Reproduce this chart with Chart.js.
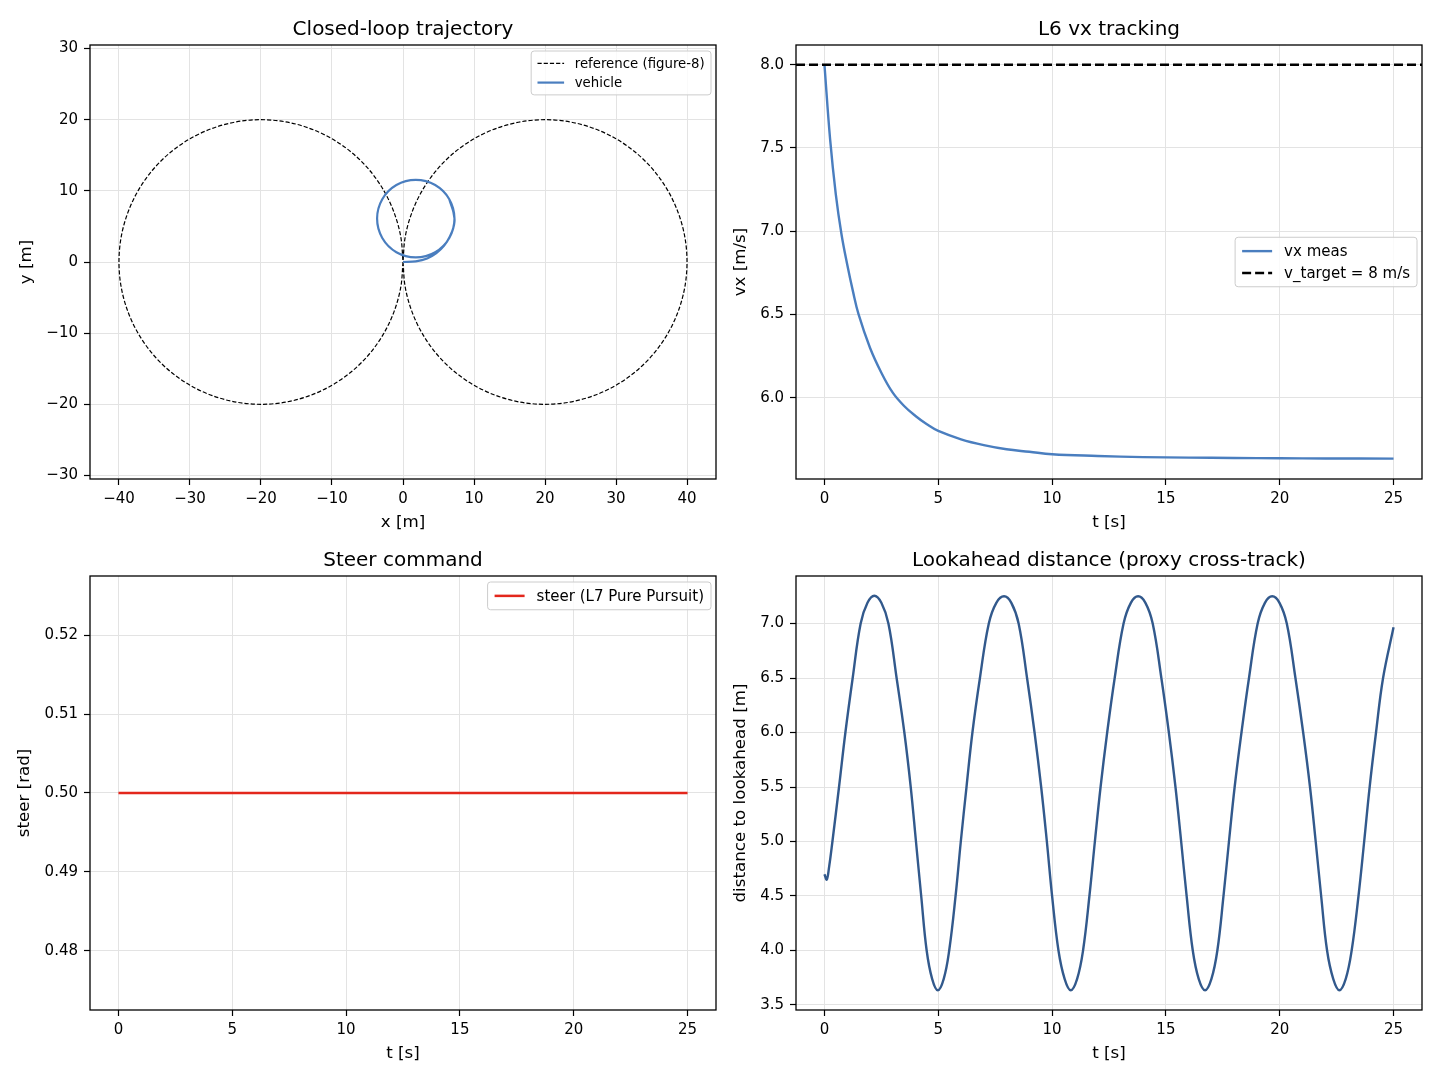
<!DOCTYPE html>
<html>
<head>
<meta charset="utf-8">
<script src="https://cdn.jsdelivr.net/npm/chart.js@4.4.1/dist/chart.umd.min.js"></script>
<style>
  html, body { margin: 0; padding: 0; background: #fff; }
  #wrap { position: relative; width: 1440px; height: 1080px; }
  canvas { position: absolute; }
</style>
</head>
<body>
<div id="wrap">
  <canvas id="traj" width="720" height="540" style="left:0;top:0"></canvas>
  <canvas id="vx" width="720" height="540" style="left:720px;top:0"></canvas>
  <canvas id="steer" width="720" height="540" style="left:0;top:540px"></canvas>
  <canvas id="look" width="720" height="540" style="left:720px;top:540px"></canvas>
</div>
<script>
// ---- data ----

// figure-8 reference path: right loop from the origin, then left loop back to the origin
const refX = [0, 0.30, 1.21, 2.68, 4.68, 7.14, 10, 13.16, 16.53, 20, 23.47, 26.84, 30, 32.86, 35.32, 37.32, 38.79, 39.70,
  40, 39.70, 38.79, 37.32, 35.32, 32.86, 30, 26.84, 23.47, 20, 16.53, 13.16, 10, 7.14, 4.68, 2.68, 1.21, 0.30,
  0, -0.30, -1.21, -2.68, -4.68, -7.14, -10, -13.16, -16.53, -20, -23.47, -26.84, -30, -32.86, -35.32, -37.32, -38.79, -39.70,
  -40, -39.70, -38.79, -37.32, -35.32, -32.86, -30, -26.84, -23.47, -20, -16.53, -13.16, -10, -7.14, -4.68, -2.68, -1.21, -0.30, 0];
const refY = [0, -3.47, -6.84, -10, -12.86, -15.32, -17.32, -18.79, -19.70, -20, -19.70, -18.79, -17.32, -15.32, -12.86, -10, -6.84, -3.47,
  0, 3.47, 6.84, 10, 12.86, 15.32, 17.32, 18.79, 19.70, 20, 19.70, 18.79, 17.32, 15.32, 12.86, 10, 6.84, 3.47,
  0, -3.47, -6.84, -10, -12.86, -15.32, -17.32, -18.79, -19.70, -20, -19.70, -18.79, -17.32, -15.32, -12.86, -10, -6.84, -3.47,
  0, 3.47, 6.84, 10, 12.86, 15.32, 17.32, 18.79, 19.70, 20, 19.70, 18.79, 17.32, 15.32, 12.86, 10, 6.84, 3.47, 0];

// vehicle path: start at origin, settle on a small loop
const vehX = [0, 1.8, 3.4, 4.7, 5.8, 6.6, 7.1, 7.25, 6.52, 4.53, 1.8, -0.93, -2.92, -3.65, -2.92, -0.93, 1.8, 4.53, 6.52, 7.25, 6.52, 4.53, 1.8, -0.93, -2.92, -3.65, -2.92, -0.93, 1.8, 4.53, 6.52, 7.25, 6.52];
const vehY = [0, 0.1, 0.5, 1.25, 2.3, 3.6, 4.85, 6.1, 8.83, 10.82, 11.55, 10.82, 8.83, 6.1, 3.38, 1.38, 0.65, 1.38, 3.38, 6.1, 8.83, 10.82, 11.55, 10.82, 8.83, 6.1, 3.38, 1.38, 0.65, 1.38, 3.38, 6.1, 8.83];

// L6 vx tracking
const vxTime = [0, 0.25, 0.5, 0.75, 1, 1.25, 1.5, 2, 2.5, 3, 3.5, 4, 4.5, 5, 6, 7, 8, 9, 10, 12, 14, 16, 18, 20, 22, 25];
const vxMeas = [8.00, 7.55, 7.22, 6.98, 6.80, 6.64, 6.50, 6.30, 6.15, 6.03, 5.95, 5.89, 5.84, 5.80, 5.75, 5.715, 5.69, 5.675, 5.66, 5.65, 5.643, 5.64, 5.638, 5.636, 5.635, 5.634];
const vTarget = 8;

// steer command
const steerTime = [0, 25];
const steerVal = [0.5, 0.5];

// lookahead distance
const laTime = [0, 0.10, 0.20, 0.35, 0.64, 0.92, 1.24, 1.59, 1.89, 2.19,
  2.50, 2.81, 3.17, 3.51, 3.79, 4.02, 4.25, 4.49, 4.73, 4.98,
  5.24, 5.48, 5.76, 5.99, 6.24, 6.50, 6.83, 7.22, 7.55, 7.89,
  8.21, 8.53, 8.90, 9.23, 9.52, 9.77, 10.00, 10.28, 10.55, 10.82,
  11.10, 11.36, 11.64, 11.88, 12.13, 12.42, 12.75, 13.14, 13.46, 13.78,
  14.10, 14.42, 14.80, 15.13, 15.42, 15.67, 15.91, 16.18, 16.44, 16.72,
  17.00, 17.26, 17.53, 17.77, 18.02, 18.32, 18.65, 19.03, 19.35, 19.67,
  19.99, 20.31, 20.69, 21.03, 21.33, 21.58, 21.82, 22.08, 22.35, 22.62,
  22.90, 23.16, 23.46, 23.71, 23.95, 24.23, 24.54, 25.00];
const laDist = [4.70, 4.65, 4.76, 5.00, 5.50, 6.00, 6.50, 7.00, 7.19, 7.255,
  7.19, 7.00, 6.50, 6.00, 5.50, 5.00, 4.50, 4.00, 3.74, 3.635,
  3.74, 4.00, 4.50, 5.00, 5.50, 6.00, 6.50, 7.00, 7.19, 7.25,
  7.19, 7.00, 6.50, 6.00, 5.50, 5.00, 4.50, 4.00, 3.74, 3.635,
  3.74, 4.00, 4.50, 5.00, 5.50, 6.00, 6.50, 7.00, 7.19, 7.25,
  7.19, 7.00, 6.50, 6.00, 5.50, 5.00, 4.50, 4.00, 3.74, 3.635,
  3.74, 4.00, 4.50, 5.00, 5.50, 6.00, 6.50, 7.00, 7.19, 7.25,
  7.19, 7.00, 6.50, 6.00, 5.50, 5.00, 4.50, 4.00, 3.74, 3.635,
  3.74, 4.00, 4.50, 5.00, 5.50, 6.00, 6.50, 6.965];

// ticks and axis limits
const trajXTicks = [-40, -30, -20, -10, 0, 10, 20, 30, 40];
const trajYTicks = [-30, -20, -10, 0, 10, 20, 30];
const tTicks = [0, 5, 10, 15, 20, 25];
const vxTicks = [6.0, 6.5, 7.0, 7.5, 8.0];
const steerTicks = [0.48, 0.49, 0.50, 0.51, 0.52];
const laTicks = [3.5, 4.0, 4.5, 5.0, 5.5, 6.0, 6.5, 7.0];
const tLim = [-1.25, 26.25];

// ---- helpers ----
Chart.defaults.font.family = "'DejaVu Sans', sans-serif";
Chart.defaults.color = '#000';

const pts = (xs, ys) => xs.map((x, i) => ({ x, y: ys[i] }));
const signed = v => (v < 0 ? '\u2212' : '') + Math.abs(v);

function axis(o) {
  return {
    type: 'linear', min: o.min, max: o.max,
    afterBuildTicks: s => { s.ticks = o.ticks.map(v => ({ value: v })); },
    afterFit: s => { if (s.isHorizontal()) s.height = o.size; else s.width = o.size; },
    grid: { color: '#e3e3e3', lineWidth: 1, drawTicks: true, tickLength: 6, tickColor: '#000', tickWidth: 1.2 },
    border: { display: false },
    ticks: { color: '#000', font: { size: 15 }, padding: o.pad, autoSkip: false, maxRotation: 0, callback: o.fmt },
    title: { display: true, text: o.title, color: '#000', font: { size: 16.7 }, padding: o.titlePad }
  };
}

// spines on all four sides + matplotlib-like legend box inside the axes
const mplBox = {
  id: 'mplBox',
  afterDraw(chart, args, opts) {
    const { ctx, chartArea: a } = chart;
    ctx.save();
    ctx.strokeStyle = '#000';
    ctx.lineWidth = 1.3;
    ctx.strokeRect(a.left, a.top, a.right - a.left, a.bottom - a.top);
    const lg = opts.legend;
    if (lg) {
      const fs = lg.size;
      ctx.font = fs + "px 'DejaVu Sans'";
      const textW = Math.max(...lg.items.map(it => ctx.measureText(it.label).width));
      const pad = 0.4 * fs + 1, sample = 2 * fs, gap = 0.8 * fs;
      const row = 1.45 * fs, padY = 0.2 * fs;
      const w = pad + sample + gap + textW + pad;
      const h = lg.items.length * row + 2 * padY;
      const x = a.right - 5 - w;
      const y = lg.loc === 'center right' ? (a.top + a.bottom) / 2 - h / 2 : a.top + 6;
      ctx.beginPath();
      ctx.roundRect(x, y, w, h, 3);
      ctx.fillStyle = 'rgba(255,255,255,0.8)';
      ctx.fill();
      ctx.strokeStyle = '#cccccc';
      ctx.lineWidth = 1;
      ctx.stroke();
      lg.items.forEach((it, i) => {
        const cy = y + padY + row * (i + 0.5);
        ctx.beginPath();
        ctx.setLineDash(it.dash || []);
        ctx.strokeStyle = it.color;
        ctx.lineWidth = it.width;
        ctx.moveTo(x + pad, cy);
        ctx.lineTo(x + pad + sample, cy);
        ctx.stroke();
        ctx.setLineDash([]);
        ctx.fillStyle = '#000';
        ctx.textBaseline = 'middle';
        ctx.textAlign = 'left';
        ctx.fillText(it.label, x + pad + sample + gap, cy + 1);
      });
    }
    ctx.restore();
  }
};

function makeChart(id, cfg) {
  return new Chart(document.getElementById(id), {
    type: 'scatter',
    data: { datasets: cfg.datasets },
    options: {
      responsive: false, animation: false, devicePixelRatio: 1,
      layout: { padding: cfg.padding },
      elements: { point: { radius: 0, hoverRadius: 0 } },
      plugins: {
        legend: { display: false },
        tooltip: { enabled: false },
        title: { display: true, text: cfg.title, fullSize: false, color: '#000',
                 font: { size: 20, weight: 'normal' }, padding: cfg.titlePad },
        mplBox: { legend: cfg.legend }
      },
      scales: { x: cfg.x, y: cfg.y }
    },
    plugins: [mplBox]
  });
}

const blue = '#4a7ebf';
const darkBlue = '#32598c';
const red = '#e3271c';
const refDash = [4.2, 2];

// ---- Closed-loop trajectory ----
makeChart('traj', {
  title: 'Closed-loop trajectory',
  padding: { left: 0, right: 4, top: 0, bottom: 0 },
  titlePad: { top: 18, bottom: 3 },
  datasets: [
    { data: pts(vehX, vehY), showLine: true, borderColor: blue, borderWidth: 2.2, tension: 0.35 },
    { data: pts(refX, refY), showLine: true, borderColor: '#000', borderWidth: 1.2, borderDash: refDash, tension: 0.33 }
  ],
  x: axis({ min: -44.08, max: 44.08, ticks: trajXTicks, fmt: signed, title: 'x [m]', size: 61, pad: 5, titlePad: { bottom: 7 } }),
  y: axis({ min: -30.5, max: 30.5, ticks: trajYTicks, fmt: signed, title: 'y [m]', size: 90, pad: 6, titlePad: { top: 17 } }),
  legend: { size: 13.3, loc: 'upper right', items: [
    { label: 'reference (figure-8)', color: '#000', width: 1.2, dash: refDash },
    { label: 'vehicle', color: blue, width: 2.2 }
  ] }
});

// ---- L6 vx tracking ----
makeChart('vx', {
  title: 'L6 vx tracking',
  padding: { left: 0, right: 18, top: 0, bottom: 0 },
  titlePad: { top: 18, bottom: 3 },
  datasets: [
    { data: [{ x: tLim[0], y: vTarget }, { x: tLim[1], y: vTarget }], showLine: true, borderColor: '#000', borderWidth: 2.5, borderDash: [9, 4] },
    { data: pts(vxTime, vxMeas), showLine: true, borderColor: blue, borderWidth: 2.4, tension: 0.4 }
  ],
  x: axis({ min: tLim[0], max: tLim[1], ticks: tTicks, fmt: v => String(v), title: 't [s]', size: 61, pad: 5, titlePad: { bottom: 7 } }),
  y: axis({ min: 5.5115, max: 8.1185, ticks: vxTicks, fmt: v => v.toFixed(1), title: 'vx [m/s]', size: 76, pad: 6, titlePad: { top: 11 } }),
  legend: { size: 15, loc: 'center right', items: [
    { label: 'vx meas', color: blue, width: 2.4 },
    { label: 'v_target = 8 m/s', color: '#000', width: 2.5, dash: [9, 4] }
  ] }
});

// ---- Steer command ----
makeChart('steer', {
  title: 'Steer command',
  padding: { left: 0, right: 4, top: 0, bottom: 0 },
  titlePad: { top: 9, bottom: 3 },
  datasets: [
    { data: pts(steerTime, steerVal), showLine: true, borderColor: red, borderWidth: 2.5 }
  ],
  x: axis({ min: tLim[0], max: tLim[1], ticks: tTicks, fmt: v => String(v), title: 't [s]', size: 70, pad: 5, titlePad: { bottom: 16 } }),
  y: axis({ min: 0.4725, max: 0.5275, ticks: steerTicks, fmt: v => v.toFixed(2), title: 'steer [rad]', size: 90, pad: 6, titlePad: { top: 15 } }),
  legend: { size: 15, loc: 'upper right', items: [
    { label: 'steer (L7 Pure Pursuit)', color: red, width: 2.5 }
  ] }
});

// ---- Lookahead distance ----
makeChart('look', {
  title: 'Lookahead distance (proxy cross-track)',
  padding: { left: 0, right: 18, top: 0, bottom: 0 },
  titlePad: { top: 9, bottom: 3 },
  datasets: [
    { data: pts(laTime, laDist), showLine: true, borderColor: darkBlue, borderWidth: 2.4, tension: 0.4 }
  ],
  x: axis({ min: tLim[0], max: tLim[1], ticks: tTicks, fmt: v => String(v), title: 't [s]', size: 70, pad: 5, titlePad: { bottom: 16 } }),
  y: axis({ min: 3.454, max: 7.436, ticks: laTicks, fmt: v => v.toFixed(1), title: 'distance to lookahead [m]', size: 76, pad: 6, titlePad: { top: 11 } }),
  legend: null
});
</script>
</body>
</html>
